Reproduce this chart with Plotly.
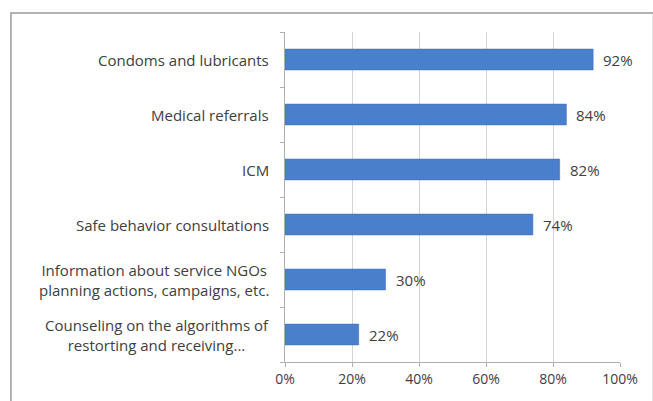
import plotly.graph_objects as go

categories = [
    "Counseling on the algorithms of<br>restorting and receiving...",
    "Information about service NGOs<br>planning actions, campaigns, etc.",
    "Safe behavior consultations",
    "ICM",
    "Medical referrals",
    "Condoms and lubricants",
]
values = [22, 30, 74, 82, 84, 92]
x_ticks = [0, 20, 40, 60, 80, 100]
x_tick_labels = [f"{v}%" for v in x_ticks]

FONT = "Open Sans"
TEXT = "#404040"
SIZE = 15

fig = go.Figure(
    go.Bar(
        y=list(range(len(categories))),
        x=values,
        orientation="h",
        marker=dict(color="#4A7FCB", line=dict(color="#3F6FB5", width=0.5)),
        hoverinfo="skip",
    )
)

# value labels just past the end of each bar
for i, v in enumerate(values):
    fig.add_annotation(
        x=v, xref="x", xanchor="left", xshift=8,
        y=i, yref="y", yanchor="middle",
        text=f"{v}%", showarrow=False,
        font=dict(family=FONT, size=SIZE, color=TEXT),
    )

# category labels, centred per line, right-aligned against the axis
for i, c in enumerate(categories):
    fig.add_annotation(
        x=0, xref="paper", xanchor="right", xshift=-14,
        y=i, yref="y", yanchor="middle",
        text=c, showarrow=False, align="center",
        font=dict(family=FONT, size=SIZE, color=TEXT),
    )

# outer chart frame
fig.add_shape(
    type="rect", xref="paper", yref="paper",
    x0=-0.818, x1=1.1, y0=-0.2, y1=1.0576,
    line=dict(color="#9a9a9a", width=1.5), fillcolor="rgba(0,0,0,0)",
    layer="below",
)

fig.update_layout(
    width=653, height=401,
    margin=dict(l=285, r=33, t=32, b=39),
    paper_bgcolor="white", plot_bgcolor="white",
    bargap=0.62, showlegend=False,
    font=dict(family=FONT, size=SIZE, color=TEXT),
)
fig.update_xaxes(
    range=[0, 100], tickvals=x_ticks, ticktext=x_tick_labels,
    showgrid=True, gridcolor="#d4d4d4", gridwidth=1,
    showline=True, linecolor="#b0b0b0", linewidth=1,
    ticks="outside", ticklen=4, tickcolor="#b0b0b0",
    tickfont=dict(family=FONT, size=SIZE - 1, color=TEXT),
    zeroline=False, fixedrange=True,
)
fig.update_yaxes(
    range=[-0.5, len(categories) - 0.5],
    tickvals=[i - 0.5 for i in range(len(categories) + 1)],
    showticklabels=False,
    showgrid=False,
    showline=True, linecolor="#b0b0b0", linewidth=1,
    ticks="outside", ticklen=4, tickcolor="#b0b0b0",
    zeroline=False, fixedrange=True,
)

fig.write_html("out.html")
